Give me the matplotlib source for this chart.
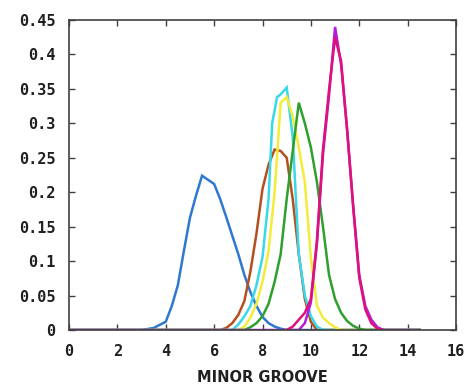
import matplotlib
matplotlib.use("Agg")
import matplotlib.pyplot as plt

# Minor groove width distributions, one curve per system
blue_x = [0, 3.0, 3.5, 4.0, 4.25, 4.5, 4.75, 5.0, 5.25, 5.5, 5.75, 6.0, 6.25, 6.5,
          6.75, 7.0, 7.25, 7.5, 7.75, 8.0, 8.25, 8.5, 8.75, 9.0, 14.5]
blue_y = [0, 0, 0.003, 0.012, 0.035, 0.065, 0.115, 0.163, 0.195, 0.224, 0.218, 0.212,
          0.19, 0.164, 0.137, 0.11, 0.08, 0.055, 0.035, 0.019, 0.01, 0.005, 0.002, 0, 0]

brown_x = [0, 6.25, 6.5, 6.75, 7.0, 7.25, 7.5, 7.75, 8.0, 8.25, 8.5, 8.75, 9.0,
           9.25, 9.5, 9.75, 10.0, 10.25, 14.5]
brown_y = [0, 0, 0.003, 0.01, 0.022, 0.042, 0.085, 0.14, 0.205, 0.24, 0.262, 0.26,
           0.25, 0.19, 0.11, 0.045, 0.012, 0, 0]

cyan_x = [0, 6.75, 7.0, 7.25, 7.5, 7.75, 8.0, 8.25, 8.4, 8.6, 8.75, 9.0, 9.25, 9.5,
          9.75, 10.0, 10.25, 10.5, 14.5]
cyan_y = [0, 0, 0.008, 0.02, 0.035, 0.065, 0.106, 0.19, 0.3, 0.338, 0.342, 0.352,
          0.28, 0.11, 0.05, 0.02, 0.005, 0, 0]

yellow_x = [0, 7.0, 7.25, 7.5, 7.75, 8.0, 8.25, 8.5, 8.75, 9.0, 9.25, 9.5, 9.75,
            10.0, 10.25, 10.5, 10.75, 11.0, 11.25, 14.5]
yellow_y = [0, 0, 0.005, 0.018, 0.038, 0.07, 0.115, 0.2, 0.33, 0.338, 0.31, 0.265,
            0.215, 0.105, 0.035, 0.018, 0.01, 0.004, 0, 0]

green_x = [0, 7.25, 7.5, 7.75, 8.0, 8.25, 8.5, 8.75, 9.0, 9.25, 9.5, 9.75, 10.0,
           10.25, 10.5, 10.75, 11.0, 11.25, 11.5, 11.75, 12.0, 12.25, 14.5]
green_y = [0, 0, 0.004, 0.01, 0.02, 0.038, 0.07, 0.11, 0.19, 0.26, 0.33, 0.3, 0.265,
           0.215, 0.15, 0.08, 0.045, 0.025, 0.013, 0.006, 0.002, 0, 0]

purple_x = [0, 9.5, 9.75, 10.0, 10.25, 10.5, 10.75, 11.0, 11.25, 11.5, 11.75, 12.0,
            12.25, 12.5, 12.75, 13.0, 14.5]
purple_y = [0, 0, 0.01, 0.04, 0.125, 0.255, 0.34, 0.44, 0.385, 0.29, 0.18, 0.08,
            0.035, 0.015, 0.004, 0, 0]

red_x = [9.0, 9.25, 9.5, 9.75, 10.0, 10.25, 10.5, 10.75, 11.0, 11.25, 11.5,
         11.75, 12.0, 12.25, 12.5, 12.75, 13.0]
red_y = [0, 0.005, 0.015, 0.025, 0.045, 0.13, 0.262, 0.348, 0.425, 0.39, 0.29,
         0.178, 0.076, 0.03, 0.01, 0.002, 0]

x_ticks = [0, 2, 4, 6, 8, 10, 12, 14, 16]
y_ticks = [0, 0.05, 0.1, 0.15, 0.2, 0.25, 0.3, 0.35, 0.4, 0.45]
y_labels = ["0", "0.05", "0.1", "0.15", "0.2", "0.25", "0.3", "0.35", "0.4", "0.45"]

series = [
    (blue_x, blue_y, "#2f78d0"),
    (brown_x, brown_y, "#b4501e"),
    (cyan_x, cyan_y, "#3ad8e8"),
    (yellow_x, yellow_y, "#f2ec3a"),
    (green_x, green_y, "#2ea02e"),
    (purple_x, purple_y, "#b01ee0"),
    (red_x, red_y, "#e0107a"),
]

fig = plt.figure(figsize=(4.75, 3.9), dpi=100)
ax = fig.add_axes([0.1453, 0.1538, 0.8147, 0.7949])

for xs, ys, c in series:
    ax.plot(xs, ys, color=c, lw=1.8, solid_joinstyle="miter")

ax.set_xlim(0, 16)
ax.set_ylim(0, 0.45)
ax.set_xticks(x_ticks)
ax.set_yticks(y_ticks)
ax.set_yticklabels(y_labels)

for lab in ax.get_xticklabels() + ax.get_yticklabels():
    lab.set_fontfamily("DejaVu Sans Mono")
    lab.set_fontweight("bold")
    lab.set_fontsize(11)
    lab.set_color("#202020")

ax.tick_params(direction="in", top=True, right=True, length=4, width=1.0,
               color="#404040")
ax.tick_params(axis="x", pad=10)
ax.tick_params(axis="y", pad=10)
for sp in ax.spines.values():
    sp.set_color("#404040")
    sp.set_linewidth(1.2)

ax.set_xlabel("MINOR GROOVE", fontfamily="DejaVu Sans", fontweight="bold",
              fontsize=10.5, color="#202020", labelpad=8)

fig.savefig("out.png", dpi=100)
